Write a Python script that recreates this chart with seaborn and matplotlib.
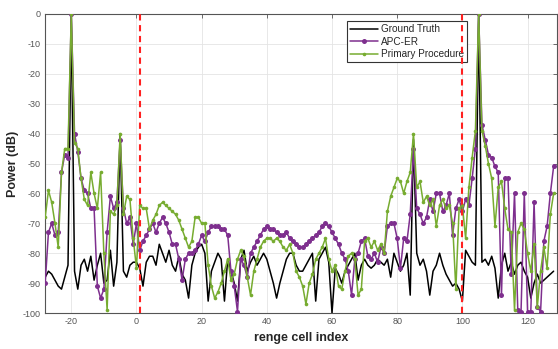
import numpy as np
import pandas as pd
import seaborn as sns
import matplotlib.pyplot as plt

cells = list(range(-28, 129))

ground_truth = [
    -88, -86, -87, -89, -91, -92, -88, -84, 0, -86,
    -92, -84, -82, -86, -81, -89, -84, -80, -90, -89,
    -79, -91, -83, -40, -86, -88, -84, -83, -83, -85,
    -91, -83, -81, -81, -84, -77, -80, -83, -79, -84,
    -86, -81, -87, -89, -95, -84, -80, -78, -77, -80,
    -96, -86, -83, -80, -82, -96, -82, -86, -90, -96,
    -82, -79, -86, -83, -81, -84, -82, -80, -82, -86,
    -90, -95, -90, -86, -82, -80, -80, -84, -86, -86,
    -84, -82, -80, -96, -82, -80, -78, -83, -100, -85,
    -87, -90, -86, -84, -82, -80, -89, -84, -82, -84,
    -85, -84, -82, -83, -84, -82, -88, -80, -83, -86,
    -84, -80, -94, -42, -80, -84, -82, -86, -94, -86,
    -84, -80, -84, -87, -89, -91, -90, -92, -96, -79,
    -81, -83, -84, 0, -83, -82, -84, -81, -85, -95,
    -84, -80, -86, -83, -87, -84, -83, -86, -88, -95,
    -90, -87, -90, -89, -88, -87, -86,
]

apc_er = [
    -90, -73, -70, -74, -73, -53, -47, -48, 0, -40,
    -46, -55, -59, -60, -65, -65, -91, -95, -92, -73,
    -61, -65, -63, -42, -65, -70, -68, -77, -70, -79,
    -76, -74, -72, -70, -73, -70, -68, -70, -73, -77,
    -77, -82, -89, -82, -80, -80, -79, -77, -74, -76,
    -73, -71, -71, -71, -72, -72, -74, -86, -91, -99.5,
    -82, -84, -88, -80, -78, -76, -74, -72, -71, -72,
    -72, -73, -74, -74, -73, -75, -76, -77, -78, -78,
    -77, -76, -75, -74, -73, -71, -70, -71, -73, -75,
    -77, -80, -82, -86, -94, -82, -80, -76, -75, -81,
    -82, -80, -83, -78, -80, -71, -70, -70, -75, -85,
    -75, -76, -67, -45, -65, -67, -70, -68, -62, -66,
    -60, -60, -66, -64, -60, -74, -65, -62, -66, -62,
    -64, -55, -45, 0, -37, -42, -47, -48, -51, -53,
    -94, -55, -55, -87, -60, -99, -99.5, -60, -99.5, -99.5,
    -63, -98, -99.5, -76, -71, -60, -51,
]

primary = [
    -68, -59, -63, -70, -78, -53, -45, -45, 0, -43,
    -45, -55, -62, -64, -53, -60, -65, -53, -80, -99,
    -66, -67, -64, -40, -67, -61, -62, -75, -85, -64,
    -65, -65, -72, -69, -67, -64, -63, -64, -65, -66,
    -67, -69, -72, -75, -78, -76, -68, -68, -70, -70,
    -84, -91, -95, -93, -90, -86, -82, -89, -87, -82,
    -79, -81, -88, -94, -86, -82, -78, -76, -75, -75,
    -76, -75, -76, -78, -79, -77, -80, -86, -88, -91,
    -97, -90, -87, -82, -80, -78, -75, -82, -86, -84,
    -91, -92, -86, -81, -80, -82, -94, -92, -76, -75,
    -78, -76, -79, -77, -80, -66, -61, -58, -55, -56,
    -60, -56, -53, -40, -58, -56, -63, -61, -64, -62,
    -71, -64, -62, -65, -64, -70, -92, -65, -64, -75,
    -58, -48, -39, 0, -39, -44, -50, -55, -71, -58,
    -56, -65, -72, -73, -99, -73, -70, -72, -80, -86,
    -77, -98, -86, -78, -85, -67, -60,
]

series_names = ["Ground Truth", "APC-ER", "Primary Procedure"]
guard_lines = [1, 100]
x_ticks = [-20, 0, 20, 40, 60, 80, 100, 120]
y_ticks = [0, -10, -20, -30, -40, -50, -60, -70, -80, -90, -100]

df = pd.DataFrame({"cell": cells, series_names[0]: ground_truth,
                   series_names[1]: apc_er, series_names[2]: primary})

sns.set_style("whitegrid")
plt.rcParams['font.family'] = ['Liberation Sans', 'DejaVu Sans']
plt.rcParams['axes.unicode_minus'] = False

fig = plt.figure(figsize=(5.58, 3.49), dpi=100)
ax = fig.add_axes([0.081, 0.103, 0.917, 0.857])

sns.lineplot(data=df, x="cell", y=series_names[0], color="black", lw=1.1,
             label=series_names[0], ax=ax, zorder=3)
sns.lineplot(data=df, x="cell", y=series_names[1], color="#7E2F8E", lw=1.1,
             marker="o", markersize=3.6, markeredgewidth=0,
             label=series_names[1], ax=ax, zorder=4)
sns.lineplot(data=df, x="cell", y=series_names[2], color="#77AC30", lw=1.1,
             marker="o", markersize=2.6, markeredgewidth=0,
             label=series_names[2], ax=ax, zorder=5)

for gx in guard_lines:
    ax.axvline(gx, color="#ff2020", ls=(0, (3, 2.2)), lw=1.5, zorder=6)

ax.set_xlim(-28, 129)
ax.set_ylim(-100, 0)
ax.set_xticks(x_ticks)
ax.set_yticks(y_ticks)
ax.tick_params(direction="in", labelsize=6.5, labelcolor="#555555",
               color="#555555", length=3, width=0.6, top=True, right=True,
               pad=3)
ax.grid(True, color="#e4e4e4", lw=0.6)
for sp in ax.spines.values():
    sp.set_visible(True)
    sp.set_color("#555555")
    sp.set_linewidth(0.8)

ax.set_xlabel("renge cell index", fontsize=9, fontweight="bold", labelpad=4)
ax.set_ylabel("Power (dB)", fontsize=9, fontweight="bold", labelpad=3)

leg = ax.legend(loc="upper left", bbox_to_anchor=(0.59, 0.975), fontsize=7.2,
                frameon=True, fancybox=False, edgecolor="#333333",
                framealpha=1, borderpad=0.3, labelspacing=0.25,
                handlelength=2.8, handletextpad=0.3, borderaxespad=0)
leg.get_frame().set_linewidth(0.8)

fig.savefig("out.png", dpi=100)
